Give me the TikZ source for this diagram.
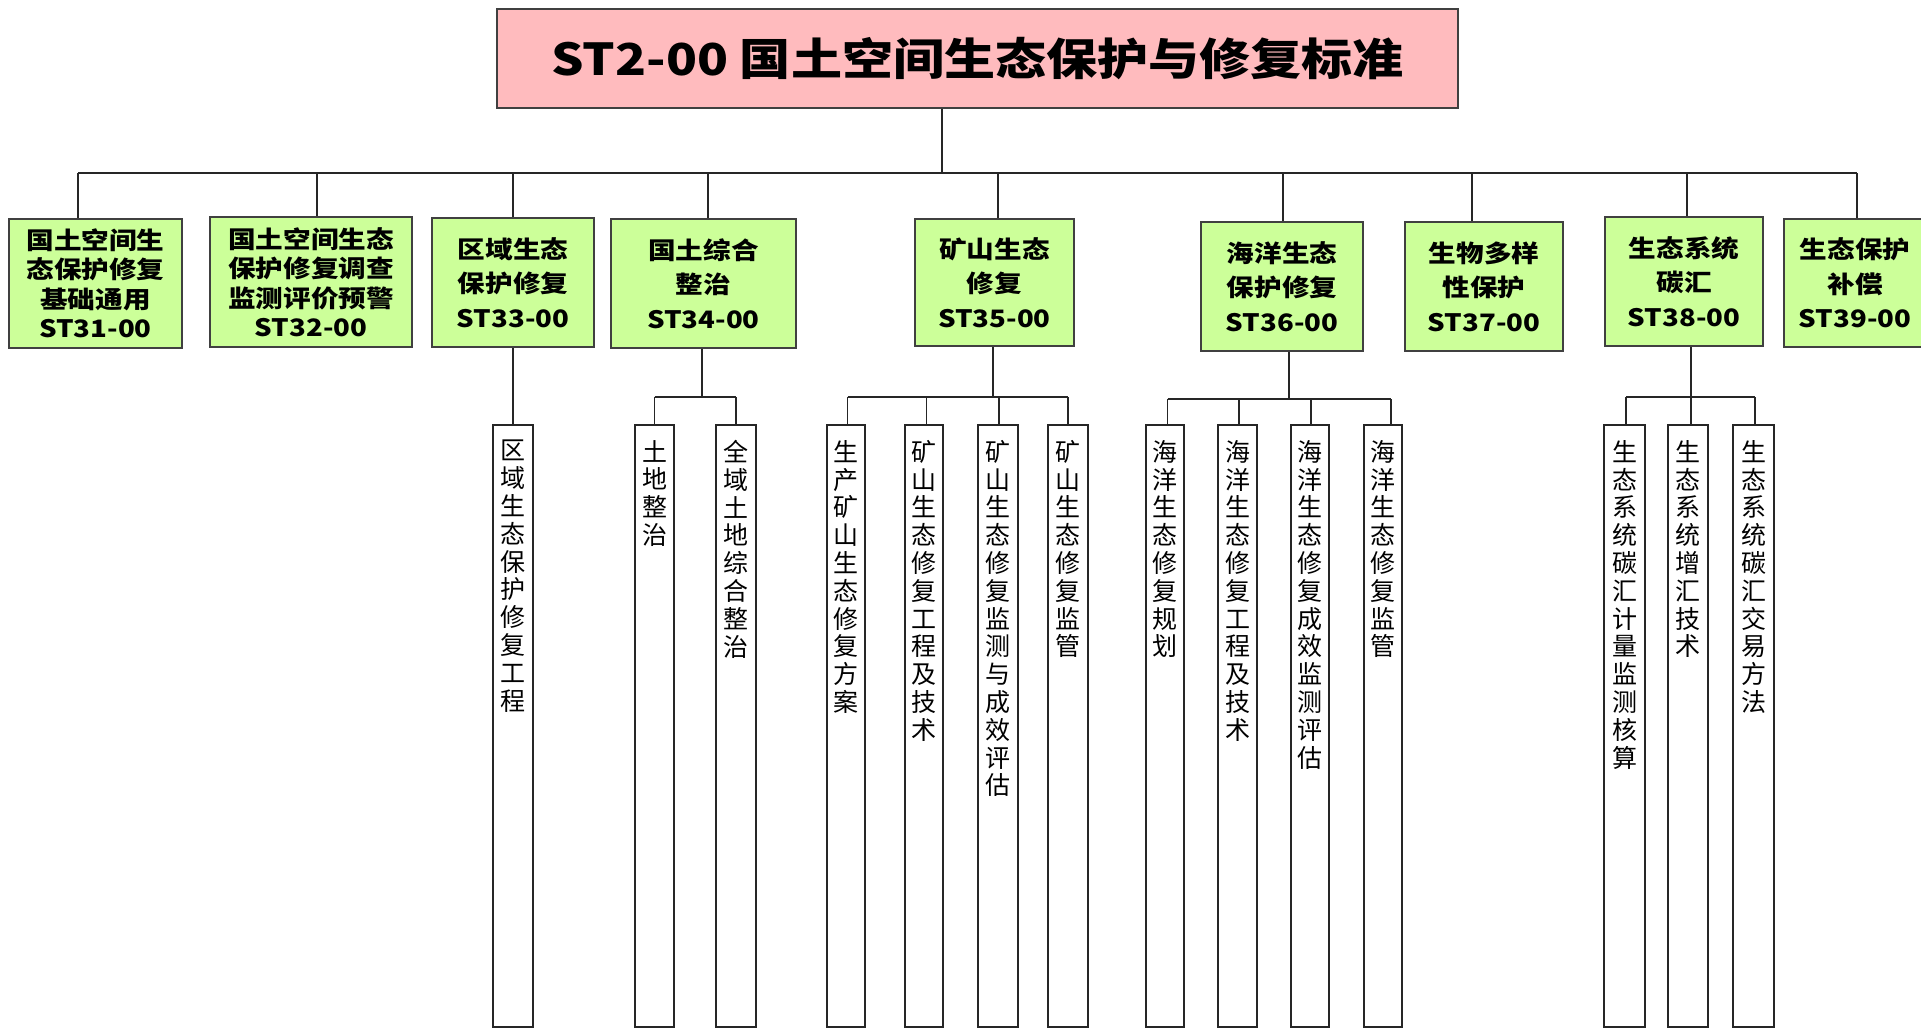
\documentclass[tikz,border=0pt]{standalone}
\usepackage{fontspec}
\newfontfamily\titlefont[FakeStretch=1.16]{Noto Sans CJK SC}
\newfontfamily\lvfont[FakeStretch=1.15]{Noto Sans CJK SC}
\newfontfamily\leaffont{Noto Sans CJK SC}
\definecolor{titlepink}{RGB}{255,187,190}
\definecolor{lvgreen}{RGB}{204,255,153}
\begin{document}
\begin{tikzpicture}[x=1pt,y=-1pt,
 conn/.style={draw=black!85, line width=1.7pt},
 lone/.style={draw=black!75, line width=2.2pt, fill=lvgreen, inner sep=0pt, align=center, font=\lvfont\bfseries\fontsize{24}{34.5}\selectfont},
 lonefour/.style={lone, font=\lvfont\bfseries\fontsize{24}{29.5}\selectfont},
 leafbox/.style={draw=black!85, line width=2pt, fill=white, inner sep=0pt, minimum height=602},
 leaftext/.style={anchor=north, inner sep=0pt, align=center, font=\leaffont\fontsize{25}{27.8}\selectfont},
]
\useasboundingbox (0,0) rectangle (1921,1030);
\fill[white] (0,0) rectangle (1921,1030);

% title
\node[draw=black!75, line width=2.2pt, fill=titlepink, minimum width=961, minimum height=99, inner sep=0pt,
      font=\titlefont\bfseries\fontsize{44}{44}\selectfont] (title) at (977.5,58.5) {ST2-00 国土空间生态保护与修复标准};

% level 1
\node[lonefour, minimum width=173, minimum height=129] (a31) at (95.5,283.5) {国土空间生\\态保护修复\\基础通用\\ST31-00};
\node[lonefour, minimum width=202, minimum height=130] (a32) at (311,282) {国土空间生态\\保护修复调查\\监测评价预警\\ST32-00};
\node[lone, minimum width=162, minimum height=129] (a33) at (513,282.5) {区域生态\\保护修复\\ST33-00};
\node[lone, minimum width=185, minimum height=129] (a34) at (703.5,283.5) {国土综合\\整治\\ST34-00};
\node[lone, minimum width=159, minimum height=127] (a35) at (994.5,282.5) {矿山生态\\修复\\ST35-00};
\node[lone, minimum width=162, minimum height=129] (a36) at (1282,286.5) {海洋生态\\保护修复\\ST36-00};
\node[lone, minimum width=158, minimum height=129] (a37) at (1484,286.5) {生物多样\\性保护\\ST37-00};
\node[lone, minimum width=158, minimum height=129] (a38) at (1684,281.5) {生态系统\\碳汇\\ST38-00};
\node[lone, minimum width=142, minimum height=128] (a39) at (1855,283) {生态保护\\补偿\\ST39-00};

% leaves
\node[leafbox, minimum width=39.5] (l33) at (513,726) {};
\node[leafbox, minimum width=39] (l341) at (654.5,726) {};
\node[leafbox, minimum width=39.5] (l342) at (736,726) {};
\node[leafbox, minimum width=38] (l351) at (846,726) {};
\node[leafbox, minimum width=38.5] (l352) at (924,726) {};
\node[leafbox, minimum width=40] (l353) at (998,726) {};
\node[leafbox, minimum width=40] (l354) at (1068,726) {};
\node[leafbox, minimum width=38.5] (l361) at (1165,726) {};
\node[leafbox, minimum width=39] (l362) at (1237.5,726) {};
\node[leafbox, minimum width=37.5] (l363) at (1310,726) {};
\node[leafbox, minimum width=38] (l364) at (1383,726) {};
\node[leafbox, minimum width=41] (l381) at (1624.5,726) {};
\node[leafbox, minimum width=40] (l382) at (1688,726) {};
\node[leafbox, minimum width=41] (l383) at (1753.5,726) {};

\node[leaftext] (t33) at (513,440) {区\\域\\生\\态\\保\\护\\修\\复\\工\\程};
\node[leaftext] (t341) at (654.5,440) {土\\地\\整\\治};
\node[leaftext] (t342) at (736,440) {全\\域\\土\\地\\综\\合\\整\\治};
\node[leaftext] (t351) at (846,440) {生\\产\\矿\\山\\生\\态\\修\\复\\方\\案};
\node[leaftext] (t352) at (924,440) {矿\\山\\生\\态\\修\\复\\工\\程\\及\\技\\术};
\node[leaftext] (t353) at (998,440) {矿\\山\\生\\态\\修\\复\\监\\测\\与\\成\\效\\评\\估};
\node[leaftext] (t354) at (1068,440) {矿\\山\\生\\态\\修\\复\\监\\管};
\node[leaftext] (t361) at (1165,440) {海\\洋\\生\\态\\修\\复\\规\\划};
\node[leaftext] (t362) at (1237.5,440) {海\\洋\\生\\态\\修\\复\\工\\程\\及\\技\\术};
\node[leaftext] (t363) at (1310,440) {海\\洋\\生\\态\\修\\复\\成\\效\\监\\测\\评\\估};
\node[leaftext] (t364) at (1383,440) {海\\洋\\生\\态\\修\\复\\监\\管};
\node[leaftext] (t381) at (1624.5,440) {生\\态\\系\\统\\碳\\汇\\计\\量\\监\\测\\核\\算};
\node[leaftext] (t382) at (1688,440) {生\\态\\系\\统\\增\\汇\\技\\术};
\node[leaftext] (t383) at (1753.5,440) {生\\态\\系\\统\\碳\\汇\\交\\易\\方\\法};

% main bus
\coordinate (trunk) at (942,173);
\draw[conn] (title.south -| trunk) -- (trunk);
\coordinate (d31) at (78,173);
\coordinate (d32) at (317,173);
\coordinate (d33) at (513,173);
\coordinate (d34) at (708,173);
\coordinate (d35) at (998,173);
\coordinate (d36) at (1283,173);
\coordinate (d37) at (1472,173);
\coordinate (d38) at (1687,173);
\coordinate (d39) at (1857,173);
\draw[conn] (d31) -- (d39);
\foreach \n in {31,32,33,34,35,36,37,38,39} {\draw[conn] (d\n) -- (d\n |- a\n.north);}

% ST33
\draw[conn] (l33.north |- a33.south) -- (l33.north);

% ST34
\coordinate (k34) at (702,397);
\coordinate (e341) at (654.5,397);
\coordinate (e342) at (736,397);
\draw[conn] (k34 |- a34.south) -- (k34);
\draw[conn] (e341) -- (e342);
\draw[conn] (e341) -- (e341 |- l341.north);
\draw[conn] (e342) -- (e342 |- l342.north);

% ST35
\coordinate (k35) at (993,397);
\coordinate (e351) at (847.5,397);
\coordinate (e352) at (926.5,397);
\coordinate (e353) at (999,397);
\coordinate (e354) at (1068,397);
\draw[conn] (k35 |- a35.south) -- (k35);
\draw[conn] (e351) -- (e354);
\draw[conn] (e351) -- (e351 |- l351.north);
\draw[conn] (e352) -- (e352 |- l352.north);
\draw[conn] (e353) -- (e353 |- l353.north);
\draw[conn] (e354) -- (e354 |- l354.north);

% ST36
\coordinate (k36) at (1289,399);
\coordinate (e361) at (1167.5,399);
\coordinate (e362) at (1239,399);
\coordinate (e363) at (1311,399);
\coordinate (e364) at (1391,399);
\draw[conn] (k36 |- a36.south) -- (k36);
\draw[conn] (e361) -- (e364);
\draw[conn] (e361) -- (e361 |- l361.north);
\draw[conn] (e362) -- (e362 |- l362.north);
\draw[conn] (e363) -- (e363 |- l363.north);
\draw[conn] (e364) -- (e364 |- l364.north);

% ST38
\coordinate (k38) at (1691,397);
\coordinate (e381) at (1626,397);
\coordinate (e383) at (1755,397);
\draw[conn] (k38 |- a38.south) -- (k38 |- l382.north);
\draw[conn] (e381) -- (e383);
\draw[conn] (e381) -- (e381 |- l381.north);
\draw[conn] (e383) -- (e383 |- l383.north);
\end{tikzpicture}
\end{document}
